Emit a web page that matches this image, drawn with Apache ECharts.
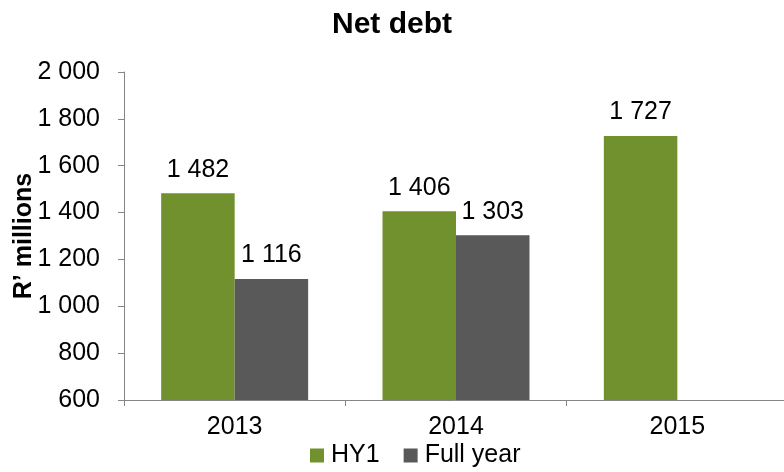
<!DOCTYPE html>
<html>
<head>
<meta charset="utf-8">
<script src="https://cdn.jsdelivr.net/npm/echarts@6/dist/echarts.min.js"></script>
<style>
  html, body { margin: 0; padding: 0; background: #fff; }
  #chart { width: 784px; height: 472px; }
</style>
</head>
<body>
<div id="chart"></div>
<script>
// data
var years = ['2013', '2014', '2015'];
var hy1 = [1482, 1406, 1727];
var fullYear = [1116, 1303, null];

// 1 482 style (space as thousands separator)
function fmt(v) {
    return String(v).replace(/\B(?=(\d{3})+(?!\d))/g, ' ');
}

var font = 'Liberation Sans, Arial, sans-serif';
var myChart = echarts.init(document.getElementById('chart'));
myChart.setOption({
    animation: false,
    textStyle: {fontFamily: font},
    title: {
        text: 'Net debt',
        left: 'center',
        top: 5,
        textStyle: {fontSize: 30, fontWeight: 'bold', color: '#000', fontFamily: font}
    },
    legend: {
        bottom: -1,
        left: 305,
        itemWidth: 14,
        itemHeight: 14,
        itemGap: 24,
        icon: 'rect',
        textStyle: {fontSize: 25, color: '#000', fontFamily: font, padding: [0, 0, 0, 2]},
        data: ['HY1', 'Full year']
    },
    grid: {
        left: 124,
        right: -4,
        top: 72,
        bottom: 72,
        outerBoundsMode: 'none'
    },
    xAxis: {
        type: 'category',
        data: years,
        axisLine: {lineStyle: {color: '#868686', width: 1}},
        axisTick: {show: true, length: 6, lineStyle: {color: '#868686'}},
        axisLabel: {fontSize: 25, color: '#000', margin: 15, fontFamily: font}
    },
    yAxis: {
        type: 'value',
        min: 600,
        max: 2000,
        interval: 200,
        name: 'R\u2019 millions',
        nameLocation: 'middle',
        nameGap: 87,
        nameMoveOverlap: false,
        nameTextStyle: {fontSize: 25, fontWeight: 'bold', color: '#000', fontFamily: font},
        axisLine: {show: true, lineStyle: {color: '#868686', width: 1}},
        axisTick: {show: true, length: 6, inside: false, lineStyle: {color: '#868686'}},
        splitLine: {show: false},
        axisLabel: {
            fontSize: 25,
            color: '#000',
            margin: 24,
            fontFamily: font,
            formatter: fmt
        }
    },
    series: [
        {
            name: 'HY1',
            type: 'bar',
            data: hy1,
            barWidth: '33.2%',
            barGap: '0%',
            itemStyle: {color: '#71902E'},
            label: {
                show: true,
                position: 'top',
                distance: 11,
                fontSize: 25,
                color: '#000',
                fontFamily: font,
                formatter: function (p) { return fmt(p.value); }
            }
        },
        {
            name: 'Full year',
            type: 'bar',
            data: fullYear,
            barWidth: '33.2%',
            barGap: '0%',
            itemStyle: {color: '#595959'},
            label: {
                show: true,
                position: 'top',
                distance: 11,
                fontSize: 25,
                color: '#000',
                fontFamily: font,
                formatter: function (p) { return fmt(p.value); }
            }
        }
    ]
});
</script>
</body>
</html>
